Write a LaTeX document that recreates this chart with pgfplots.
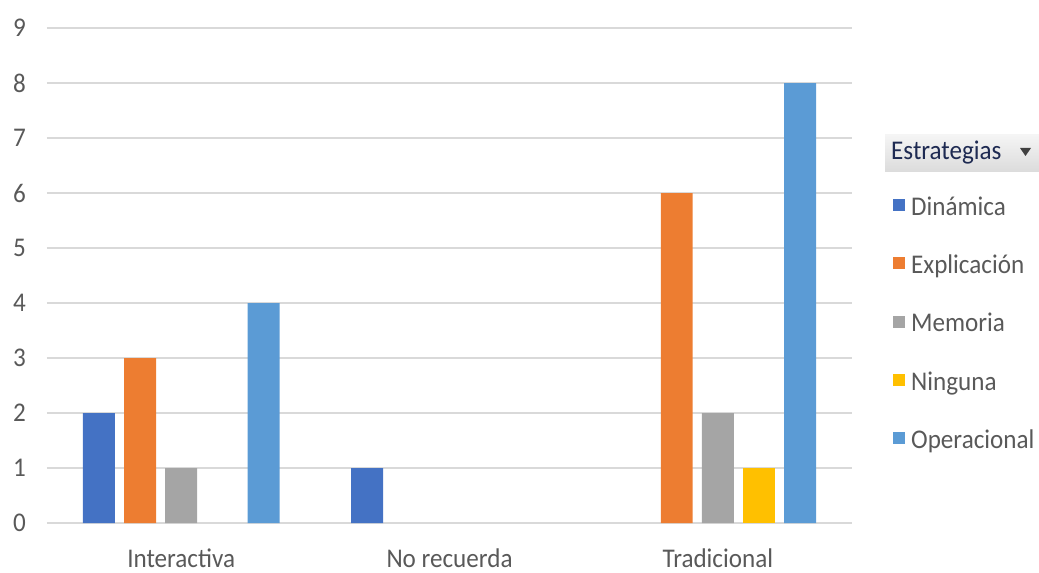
\documentclass[border=0pt]{standalone}
\usepackage{fontspec}
\setmainfont{Carlito}[FakeStretch=0.93]
\usepackage{pgfplots}
\pgfplotsset{compat=1.18}
\definecolor{cA}{HTML}{4472C4}
\definecolor{cB}{HTML}{ED7D31}
\definecolor{cC}{HTML}{A5A5A5}
\definecolor{cD}{HTML}{FFC000}
\definecolor{cE}{HTML}{5B9BD5}
\definecolor{txt}{HTML}{595959}
\definecolor{gridc}{HTML}{D9D9D9}
\definecolor{navy}{HTML}{1E2A52}
\begin{document}
\begin{tikzpicture}[font=\fontsize{27}{32}\selectfont]
\begin{axis}[
  at={(0,0)}, anchor=south west,
  scale only axis, width=805pt, height=495pt,
  xmin=-0.5, xmax=2.5, ymin=0, ymax=9,
  xtick={0,1,2}, xticklabels={Interactiva, No recuerda, Tradicional},
  ytick={0,1,...,9},
  axis line style={draw=none},
  major tick length=0pt,
  ymajorgrids, grid style={color=gridc, line width=1.5pt},
  tick label style={text=txt},
  /pgf/number format/assume math mode=true,
  yticklabel style={anchor=east, inner sep=0pt, xshift=-21pt},
  xticklabel style={anchor=base, inner sep=0pt, yshift=-44pt},
  ybar, bar width=0.119,
  legend image code/.code={\fill[#1] (0pt,-5pt) rectangle (12pt,7pt);},
  legend style={draw=none, fill=none, at={(1.0509,0.6627)}, anchor=north west,
    inner sep=0pt, row sep=36.3pt, text=txt,
    nodes={inner sep=0pt, text height=20pt, text depth=2pt},
    /tikz/every odd column/.append style={column sep=6pt}},
  legend cell align=left,
]
\addplot[fill=cA, draw=none, bar shift=-0.307] coordinates {(0,2) (1,1)};
\addplot[fill=cB, draw=none, bar shift=-0.153] coordinates {(0,3) (2,6)};
\addplot[fill=cC, draw=none, bar shift=0] coordinates {(0,1) (2,2)};
\addplot[fill=cD, draw=none, bar shift=0.153] coordinates {(2,1)};
\addplot[fill=cE, draw=none, bar shift=0.307] coordinates {(0,4) (2,8)};
\legend{Dinámica, Explicación, Memoria, Ninguna, Operacional}
\end{axis}
\shade[top color=gray!8, bottom color=gray!28] (838pt,351pt) rectangle (992pt,388pt);
\node[anchor=west, inner sep=0pt, text=navy] at (844pt,370pt) {Estrategias};
\fill[black!75] (973pt,375pt) -- (984pt,375pt) -- (978.5pt,367pt) -- cycle;
\pgfresetboundingbox
\path[use as bounding box] (-47pt,-50pt) rectangle (992pt,523pt);
\end{tikzpicture}
\end{document}
